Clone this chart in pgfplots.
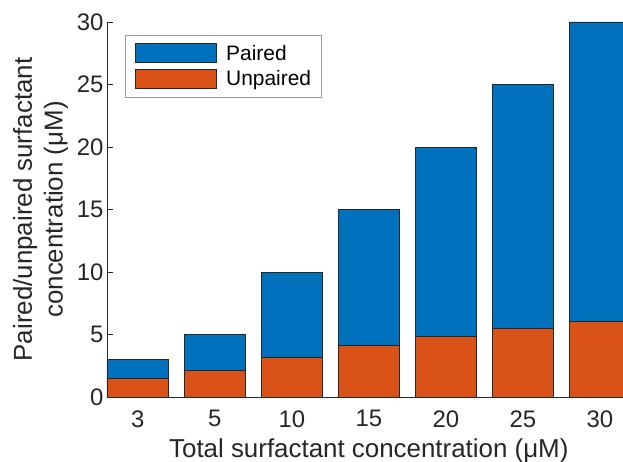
\documentclass[border=0pt]{standalone}
\usepackage{fontspec}
\setmainfont{Liberation Sans}
\usepackage{pgfplots}
\pgfplotsset{compat=1.18}
\definecolor{mblue}{rgb}{0,0.447,0.741}
\definecolor{morange}{rgb}{0.851,0.325,0.098}
\definecolor{axgray}{rgb}{0.15,0.15,0.15}
\pgfplotsset{boxlegend/.style={legend image code/.code={\draw[##1] (0bp,-9.5bp) rectangle (81bp,9.5bp);}}}
\begin{document}
\begin{tikzpicture}
\begin{axis}[name=ax, scale only axis, width=523.6bp, height=375bp,
 xmin=-0.4, xmax=6.4, ymin=0, ymax=30, clip=false,
 ybar stacked, bar width=0.8,
 axis x line*=bottom, axis y line*=left,
 axis line style={axgray, line width=0.8bp},
 xtick={0,...,6}, xticklabels={3,5,10,15,20,25,30},
 ytick={0,5,...,30},
 tick align=inside, major tick length=6bp,
 xtick style={draw=none}, ytick style={axgray, line width=0.8bp},
 tick label style={font=\fontsize{24}{28}\selectfont, text=axgray},
 xticklabel style={yshift=-10bp},
 /pgf/number format/assume math mode=true,
 xlabel={Total surfactant concentration (μM)},
 ylabel={Paired/unpaired surfactant\\concentration (μM)},
 label style={font=\fontsize{26}{31}\selectfont, text=axgray},
 xlabel style={yshift=-4bp},
 ylabel style={align=center, yshift=2bp},
 legend style={at={(0.0344,0.9653)}, anchor=north west, draw=gray!80, line width=0.8bp,
   font=\fontsize{21}{25}\selectfont, inner xsep=10bp, inner ysep=8bp,
   nodes={inner sep=0pt}, row sep=6bp,
   /tikz/every odd column/.append style={column sep=9bp}},
 legend cell align=left,
 reverse legend,
]
\addplot[fill=morange, draw=black!85, line width=0.8bp, boxlegend]
  coordinates {(0,1.5) (1,2.15) (2,3.2) (3,4.1) (4,4.83) (5,5.47) (6,6.08)};
\addplot[fill=mblue, draw=black!85, line width=0.8bp, boxlegend]
  coordinates {(0,1.5) (1,2.85) (2,6.8) (3,10.9) (4,15.17) (5,19.53) (6,23.92)};
\legend{Unpaired, Paired}
\end{axis}
\pgfresetboundingbox
\useasboundingbox ([shift={(-107bp,-64bp)}]ax.south west) rectangle ([shift={(-7.6bp,22bp)}]ax.north east);
\end{tikzpicture}
\end{document}
